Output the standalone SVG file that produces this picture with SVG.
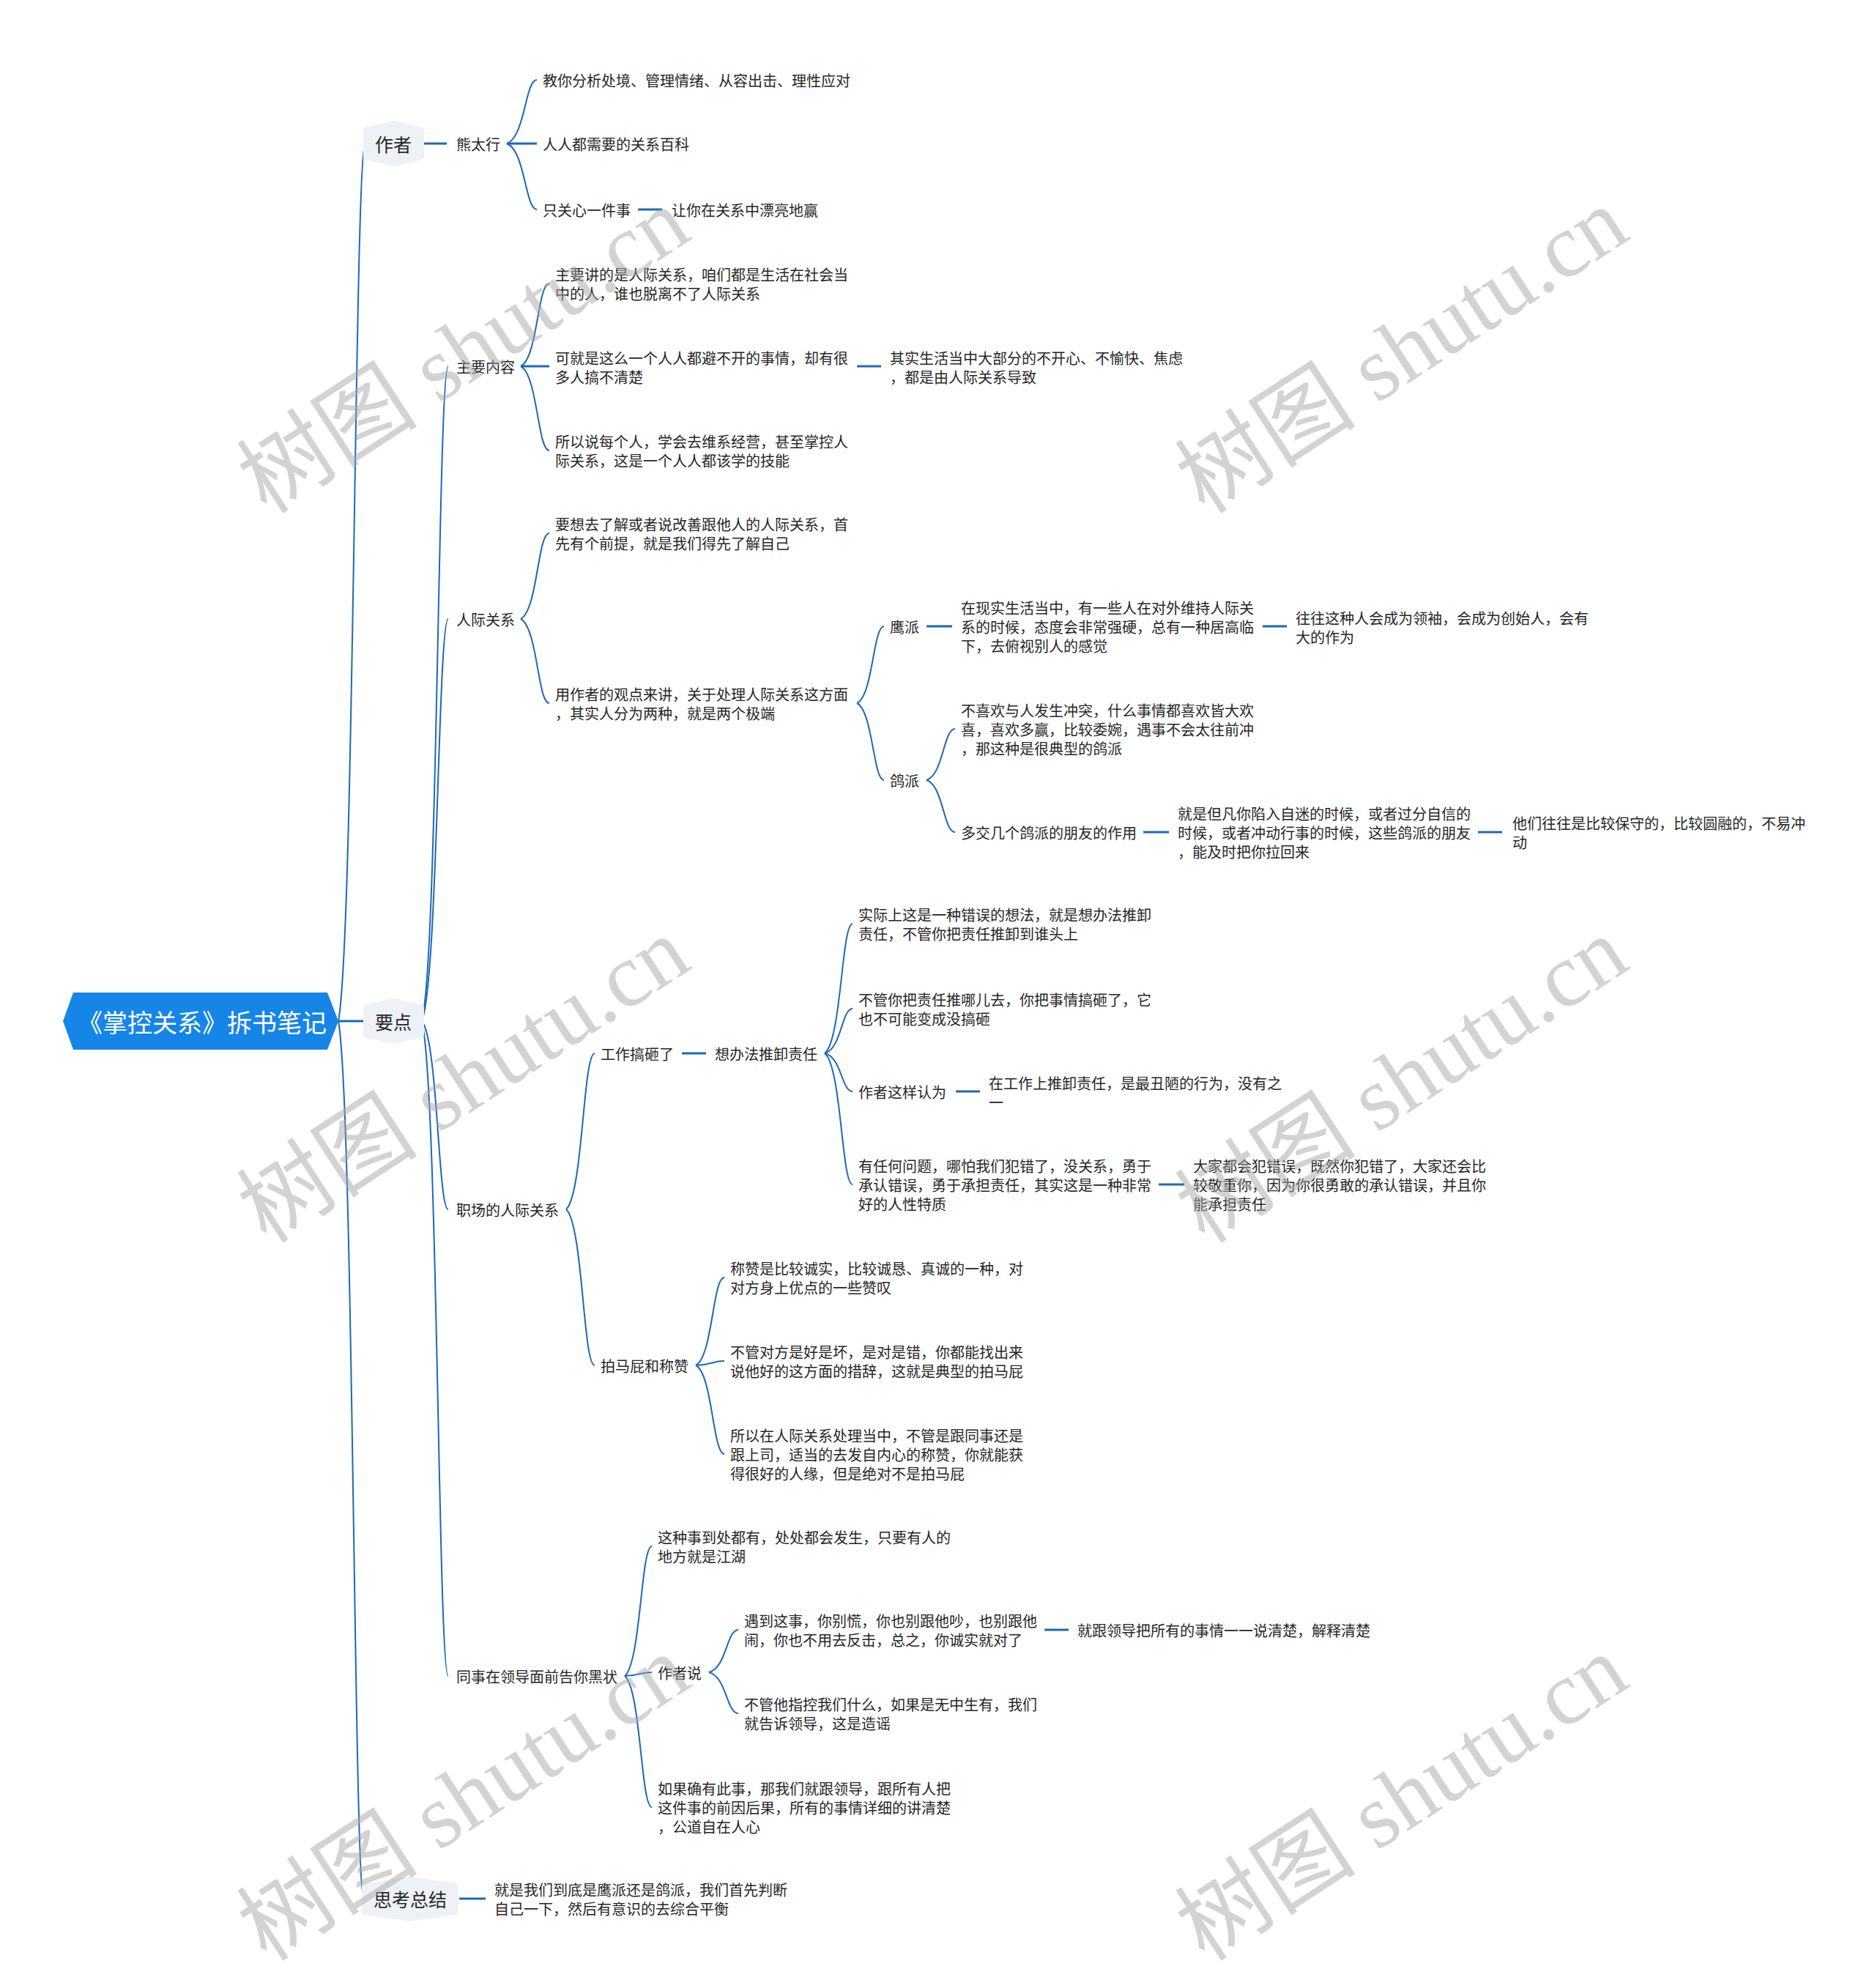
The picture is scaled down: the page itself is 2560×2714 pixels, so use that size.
<svg xmlns="http://www.w3.org/2000/svg" width="2560" height="2714" viewBox="0 0 2560 2714">
<style>
.t{font-family:"Noto Sans CJK SC","Noto Sans",sans-serif;font-size:20px;fill:#262626;dominant-baseline:central}
.l1{font-size:25px;text-anchor:middle}
.rt{font-size:34px;fill:#ffffff;text-anchor:middle}
.hx{fill:#eef1f5;stroke:#eef1f5;stroke-width:6;stroke-linejoin:round}
.c{fill:none;stroke:#1d68b8;stroke-width:2}
.s{fill:none;stroke:#1d68b8;stroke-width:3}
.wm{font-family:"Liberation Serif","Noto Sans CJK SC",serif;font-size:124px;fill:#a8a8a8;fill-opacity:0.5;text-anchor:middle}
</style>
<rect width="2560" height="2714" fill="#ffffff"/>
<g id="connectors">
<path class="c" d="M462,1394 C484,1274 484,196 499,196"/>
<path class="s" d="M462,1394 L499,1394"/>
<path class="c" d="M462,1394 C483,1514 483,2592 497,2592"/>
<path class="c" d="M576,1394 C598,1305 598,500 612,500"/>
<path class="c" d="M576,1394 C598,1339 598,845 612,845"/>
<path class="c" d="M576,1394 C598,1420 598,1651 612,1651"/>
<path class="c" d="M576,1394 C598,1483 598,2288 612,2288"/>
<path class="s" d="M576,196 L610,196"/>
<path class="c" d="M692,196 C717,187 717,109 733,109"/>
<path class="s" d="M692,196 L733,196"/>
<path class="c" d="M692,196 C717,205 717,286 733,286"/>
<path class="s" d="M871,286 L904,286"/>
<path class="c" d="M711,500 C734,489 734,387 750,387"/>
<path class="s" d="M711,500 L750,500"/>
<path class="c" d="M711,500 C734,512 734,615 750,615"/>
<path class="s" d="M1170,500 L1203,500"/>
<path class="c" d="M711,845 C734,833 734,728 750,728"/>
<path class="c" d="M711,845 C734,857 734,960 750,960"/>
<path class="c" d="M1170,960 C1192,950 1192,855 1207,855"/>
<path class="c" d="M1170,960 C1192,971 1192,1065 1207,1065"/>
<path class="s" d="M1265,855 L1300,855"/>
<path class="s" d="M1724,855 L1757,855"/>
<path class="c" d="M1265,1065 C1288,1058 1288,995 1304,995"/>
<path class="c" d="M1265,1065 C1288,1072 1288,1136 1304,1136"/>
<path class="s" d="M1561,1136 L1596,1136"/>
<path class="s" d="M2018,1136 L2051,1136"/>
<path class="c" d="M773,1651 C796,1630 796,1438 812,1438"/>
<path class="c" d="M773,1651 C796,1672 796,1864 812,1864"/>
<path class="s" d="M931,1438 L964,1438"/>
<path class="c" d="M1126,1438 C1149,1420 1149,1261 1164,1261"/>
<path class="c" d="M1126,1438 C1149,1432 1149,1377 1164,1377"/>
<path class="c" d="M1126,1438 C1149,1443 1149,1490 1164,1490"/>
<path class="c" d="M1126,1438 C1149,1456 1149,1617 1164,1617"/>
<path class="s" d="M1305,1490 L1338,1490"/>
<path class="s" d="M1582,1617 L1617,1617"/>
<path class="c" d="M950,1864 C973,1852 973,1744 989,1744"/>
<path class="c" d="M950,1864 C973,1863 973,1858 989,1858"/>
<path class="c" d="M950,1864 C973,1876 973,1985 989,1985"/>
<path class="c" d="M853,2288 C875,2270 875,2111 890,2111"/>
<path class="c" d="M853,2288 C875,2287 875,2283 890,2283"/>
<path class="c" d="M853,2288 C875,2306 875,2467 890,2467"/>
<path class="c" d="M968,2283 C992,2277 992,2225 1008,2225"/>
<path class="c" d="M968,2283 C992,2289 992,2339 1008,2339"/>
<path class="s" d="M1426,2225 L1459,2225"/>
<path class="s" d="M627,2592 L663,2592"/>
</g>
<g id="root">
<polygon points="86,1394 100,1355 447,1355 462,1394 447,1433 100,1433" fill="#1685e8"/>
<text class="t rt" x="276" y="1394">《掌控关系》拆书笔记</text>
</g>
<g id="n-zuozhe">
<polygon class="hx" points="499,177 537,168 576,177 576,215 537,224 499,215"/>
<text class="t l1" x="537" y="196">作者</text>
</g>
<g id="n-xiongtaixing"><text class="t" x="623" y="196">熊太行</text></g>
<g id="n-a1"><text class="t" x="741" y="109">教你分析处境、管理情绪、从容出击、理性应对</text></g>
<g id="n-a2"><text class="t" x="741" y="196">人人都需要的关系百科</text></g>
<g id="n-a3"><text class="t" x="741" y="286">只关心一件事</text></g>
<g id="n-a3a"><text class="t" x="917" y="286">让你在关系中漂亮地赢</text></g>
<g id="n-yaodian">
<polygon class="hx" points="499,1375 537,1366 576,1375 576,1413 537,1422 499,1413"/>
<text class="t l1" x="537" y="1394">要点</text>
</g>
<g id="n-zhuyao"><text class="t" x="623" y="500">主要内容</text></g>
<g id="n-z1"><text class="t"><tspan x="758" y="374">主要讲的是人际关系，咱们都是生活在社会当</tspan><tspan x="758" y="400">中的人，谁也脱离不了人际关系</tspan></text></g>
<g id="n-z2"><text class="t"><tspan x="758" y="488">可就是这么一个人人都避不开的事情，却有很</tspan><tspan x="758" y="514">多人搞不清楚</tspan></text></g>
<g id="n-z2a"><text class="t"><tspan x="1215" y="488">其实生活当中大部分的不开心、不愉快、焦虑</tspan><tspan x="1215" y="514">，都是由人际关系导致</tspan></text></g>
<g id="n-z3"><text class="t"><tspan x="758" y="602">所以说每个人，学会去维系经营，甚至掌控人</tspan><tspan x="758" y="628">际关系，这是一个人人都该学的技能</tspan></text></g>
<g id="n-renji"><text class="t" x="623" y="845">人际关系</text></g>
<g id="n-r1"><text class="t"><tspan x="758" y="715">要想去了解或者说改善跟他人的人际关系，首</tspan><tspan x="758" y="741">先有个前提，就是我们得先了解自己</tspan></text></g>
<g id="n-r2"><text class="t"><tspan x="758" y="947">用作者的观点来讲，关于处理人际关系这方面</tspan><tspan x="758" y="973">，其实人分为两种，就是两个极端</tspan></text></g>
<g id="n-ying"><text class="t" x="1215" y="855">鹰派</text></g>
<g id="n-ying1"><text class="t"><tspan x="1312" y="829">在现实生活当中，有一些人在对外维持人际关</tspan><tspan x="1312" y="855">系的时候，态度会非常强硬，总有一种居高临</tspan><tspan x="1312" y="881">下，去俯视别人的感觉</tspan></text></g>
<g id="n-ying2"><text class="t"><tspan x="1769" y="843">往往这种人会成为领袖，会成为创始人，会有</tspan><tspan x="1769" y="869">大的作为</tspan></text></g>
<g id="n-ge"><text class="t" x="1215" y="1065">鸽派</text></g>
<g id="n-ge1"><text class="t"><tspan x="1312" y="969">不喜欢与人发生冲突，什么事情都喜欢皆大欢</tspan><tspan x="1312" y="995">喜，喜欢多赢，比较委婉，遇事不会太往前冲</tspan><tspan x="1312" y="1021">，那这种是很典型的鸽派</tspan></text></g>
<g id="n-ge2"><text class="t" x="1312" y="1136">多交几个鸽派的朋友的作用</text></g>
<g id="n-ge2a"><text class="t"><tspan x="1608" y="1110">就是但凡你陷入自迷的时候，或者过分自信的</tspan><tspan x="1608" y="1136">时候，或者冲动行事的时候，这些鸽派的朋友</tspan><tspan x="1608" y="1162">，能及时把你拉回来</tspan></text></g>
<g id="n-ge2b"><text class="t"><tspan x="2065" y="1123">他们往往是比较保守的，比较圆融的，不易冲</tspan><tspan x="2065" y="1149">动</tspan></text></g>
<g id="n-zhichang"><text class="t" x="623" y="1651">职场的人际关系</text></g>
<g id="n-gaoza"><text class="t" x="820" y="1438">工作搞砸了</text></g>
<g id="n-tuixie"><text class="t" x="976" y="1438">想办法推卸责任</text></g>
<g id="n-t1"><text class="t"><tspan x="1172" y="1248">实际上这是一种错误的想法，就是想办法推卸</tspan><tspan x="1172" y="1274">责任，不管你把责任推卸到谁头上</tspan></text></g>
<g id="n-t2"><text class="t"><tspan x="1172" y="1364">不管你把责任推哪儿去，你把事情搞砸了，它</tspan><tspan x="1172" y="1390">也不可能变成没搞砸</tspan></text></g>
<g id="n-t3"><text class="t" x="1172" y="1490">作者这样认为</text></g>
<g id="n-t3a"><text class="t"><tspan x="1350" y="1478">在工作上推卸责任，是最丑陋的行为，没有之</tspan><tspan x="1350" y="1504">一</tspan></text></g>
<g id="n-t4"><text class="t"><tspan x="1172" y="1591">有任何问题，哪怕我们犯错了，没关系，勇于</tspan><tspan x="1172" y="1617">承认错误，勇于承担责任，其实这是一种非常</tspan><tspan x="1172" y="1643">好的人性特质</tspan></text></g>
<g id="n-t4a"><text class="t"><tspan x="1629" y="1591">大家都会犯错误，既然你犯错了，大家还会比</tspan><tspan x="1629" y="1617">较敬重你，因为你很勇敢的承认错误，并且你</tspan><tspan x="1629" y="1643">能承担责任</tspan></text></g>
<g id="n-pai"><text class="t" x="820" y="1864">拍马屁和称赞</text></g>
<g id="n-p1"><text class="t"><tspan x="997" y="1731">称赞是比较诚实，比较诚恳、真诚的一种，对</tspan><tspan x="997" y="1757">对方身上优点的一些赞叹</tspan></text></g>
<g id="n-p2"><text class="t"><tspan x="997" y="1845">不管对方是好是坏，是对是错，你都能找出来</tspan><tspan x="997" y="1871">说他好的这方面的措辞，这就是典型的拍马屁</tspan></text></g>
<g id="n-p3"><text class="t"><tspan x="997" y="1959">所以在人际关系处理当中，不管是跟同事还是</tspan><tspan x="997" y="1985">跟上司，适当的去发自内心的称赞，你就能获</tspan><tspan x="997" y="2011">得很好的人缘，但是绝对不是拍马屁</tspan></text></g>
<g id="n-tongshi"><text class="t" x="623" y="2288">同事在领导面前告你黑状</text></g>
<g id="n-s1"><text class="t"><tspan x="898" y="2098">这种事到处都有，处处都会发生，只要有人的</tspan><tspan x="898" y="2124">地方就是江湖</tspan></text></g>
<g id="n-s2"><text class="t" x="898" y="2283">作者说</text></g>
<g id="n-s2a"><text class="t"><tspan x="1016" y="2212">遇到这事，你别慌，你也别跟他吵，也别跟他</tspan><tspan x="1016" y="2238">闹，你也不用去反击，总之，你诚实就对了</tspan></text></g>
<g id="n-s2a1"><text class="t" x="1471" y="2225">就跟领导把所有的事情一一说清楚，解释清楚</text></g>
<g id="n-s2b"><text class="t"><tspan x="1016" y="2326">不管他指控我们什么，如果是无中生有，我们</tspan><tspan x="1016" y="2352">就告诉领导，这是造谣</tspan></text></g>
<g id="n-s3"><text class="t"><tspan x="898" y="2441">如果确有此事，那我们就跟领导，跟所有人把</tspan><tspan x="898" y="2467">这件事的前因后果，所有的事情详细的讲清楚</tspan><tspan x="898" y="2493">，公道自在人心</tspan></text></g>
<g id="n-sikao">
<polygon class="hx" points="497,2574 560,2565 622,2574 622,2611 560,2620 497,2611"/>
<text class="t l1" x="560" y="2592">思考总结</text>
</g>
<g id="n-sk1"><text class="t"><tspan x="675" y="2579">就是我们到底是鹰派还是鸽派，我们首先判断</tspan><tspan x="675" y="2605">自己一下，然后有意识的去综合平衡</tspan></text></g>
<g id="watermark">
<text class="wm" x="656" y="514" transform="rotate(-33 656 514)">树图 shutu.cn</text>
<text class="wm" x="1937" y="514" transform="rotate(-33 1937 514)">树图 shutu.cn</text>
<text class="wm" x="656" y="1510" transform="rotate(-33 656 1510)">树图 shutu.cn</text>
<text class="wm" x="1937" y="1510" transform="rotate(-33 1937 1510)">树图 shutu.cn</text>
<text class="wm" x="656" y="2490" transform="rotate(-33 656 2490)">树图 shutu.cn</text>
<text class="wm" x="1937" y="2490" transform="rotate(-33 1937 2490)">树图 shutu.cn</text>
</g>
</svg>
